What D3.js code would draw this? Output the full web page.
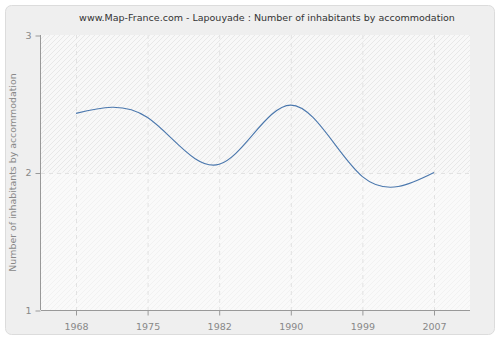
<!DOCTYPE html>
<html><head><meta charset="utf-8">
<script src="https://cdn.jsdelivr.net/npm/d3@7"></script>
<style>body{margin:0;background:#fff}svg{display:block}</style>
</head><body><svg id="c" width="500" height="340"></svg>
<script>
const years = ["1968","1975","1982","1990","1999","2007"];
const values = [2.43, 2.40, 2.06, 2.49, 1.97, 2.0];
const yTicks = [1, 2, 3];
const title = "www.Map-France.com - Lapouyade : Number of inhabitants by accommodation";
const yLabel = "Number of inhabitants by accommodation";

const svg = d3.select("#c");
const font = "DejaVu Sans, Verdana, sans-serif";
const defs = svg.append("defs");
const p1 = defs.append("pattern").attr("id","h1").attr("patternUnits","userSpaceOnUse").attr("width",5).attr("height",5);
p1.append("rect").attr("width",5).attr("height",5).attr("fill","#f8f8f8");
p1.append("path").attr("d","M-1,6 L6,-1 M-1,1 L1,-1 M4,6 L6,4").attr("stroke","#e8e8e8").attr("stroke-width",1);
const p2 = defs.append("pattern").attr("id","h2").attr("patternUnits","userSpaceOnUse").attr("width",5).attr("height",5);
p2.append("rect").attr("width",5).attr("height",5).attr("fill","#fafafa");
p2.append("path").attr("d","M-1,6 L6,-1 M-1,1 L1,-1 M4,6 L6,4").attr("stroke","#f2f2f2").attr("stroke-width",1);

svg.append("rect").attr("x",5.5).attr("y",5.5).attr("width",489).attr("height",329).attr("rx",6)
  .attr("fill","#efefef").attr("stroke","#dcdcdc");

const L=41, R=470, T=35, B=310;
const x = d3.scalePoint().domain(years).range([76, 434]);
const y = d3.scaleLinear().domain([1,3]).range([B, T]);

svg.append("rect").attr("x",L).attr("y",y(3)).attr("width",R-L).attr("height",y(2)-y(3)).attr("fill","url(#h1)");
svg.append("rect").attr("x",L).attr("y",y(2)).attr("width",R-L).attr("height",y(1)-y(2)).attr("fill","url(#h2)");

const g = svg.append("g");
years.forEach(yr=>{
  g.append("line").attr("x1",x(yr)+0.5).attr("x2",x(yr)+0.5).attr("y1",T).attr("y2",B)
   .attr("stroke","#e2e2e2").attr("stroke-dasharray","4,4");
});
[2].forEach(v=>{
  g.append("line").attr("x1",L).attr("x2",R).attr("y1",Math.round(y(v))+0.5).attr("y2",Math.round(y(v))+0.5)
   .attr("stroke","#e2e2e2").attr("stroke-dasharray","4,4");
});

const xa = svg.append("g").attr("transform",`translate(0,${B+0.5})`)
  .call(d3.axisBottom(x).tickSize(5).tickPadding(8).tickSizeOuter(0));
xa.select(".domain").attr("d",`M${L},0H${R}`);
const ya = svg.append("g").attr("transform",`translate(${L-0.5},0)`)
  .call(d3.axisLeft(y).tickValues(yTicks).tickFormat(d3.format("d")).tickSize(5).tickPadding(4).tickSizeOuter(0));
ya.select(".domain").attr("d",`M0,${T}V${B}`);
[xa,ya].forEach(a=>{
  a.selectAll(".domain").attr("stroke","#999");
  a.selectAll(".tick line").attr("stroke","#999");
  a.selectAll("text").attr("fill","#888").attr("font-family",font).attr("font-size",9.5);
});
ya.selectAll(".tick line").attr("transform","translate(0,0.5)");

const line = d3.line().x((d,i)=>x(years[i])).y(d=>y(d)).curve(d3.curveNatural);
svg.append("path").datum(values).attr("d",line).attr("fill","none").attr("stroke","#4a77ad").attr("stroke-width",1.1);

svg.append("text").attr("x",267).attr("y",21).attr("text-anchor","middle").attr("font-family",font)
  .attr("font-size",9.5).attr("fill","#333").text(title);
svg.append("text").attr("transform",`translate(16,${(T+B)/2}) rotate(-90)`).attr("text-anchor","middle")
  .attr("font-family",font).attr("font-size",9.4).attr("fill","#888").text(yLabel);
</script></body></html>
